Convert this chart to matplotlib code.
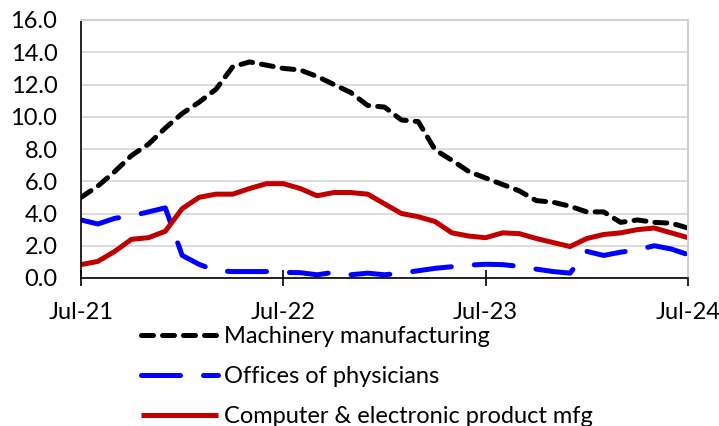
import matplotlib
matplotlib.use("Agg")
import matplotlib.pyplot as plt
import numpy as np

plt.rcParams['font.family'] = ['Lato', 'DejaVu Sans']

# Monthly data, Jul-21 .. Jul-24 (37 months)
months = list(range(37))
tick_positions = [0, 12, 24, 36]
tick_labels = ["Jul-21", "Jul-22", "Jul-23", "Jul-24"]

machinery = [5.0, 5.7, 6.6, 7.6, 8.3, 9.3, 10.2, 10.9, 11.7, 13.1, 13.4, 13.2,
             13.0, 12.9, 12.5, 12.0, 11.5, 10.7, 10.6, 9.8, 9.7, 7.95, 7.3, 6.6,
             6.2, 5.8, 5.4, 4.8, 4.7, 4.45, 4.1, 4.1, 3.45, 3.6, 3.45, 3.4, 3.1]
physicians = [3.6, 3.35, 3.7, 3.85, 4.1, 4.35, 1.4, 0.85, 0.45, 0.4, 0.4, 0.4,
              0.35, 0.33, 0.2, 0.35, 0.2, 0.3, 0.2, 0.3, 0.45, 0.6, 0.7, 0.8,
              0.85, 0.83, 0.72, 0.55, 0.4, 0.3, 1.65, 1.4, 1.6, 1.75, 2.0, 1.8, 1.45]
computer = [0.83, 1.03, 1.65, 2.4, 2.5, 2.9, 4.3, 5.0, 5.2, 5.2, 5.55, 5.85,
            5.85, 5.55, 5.1, 5.3, 5.3, 5.2, 4.6, 4.0, 3.8, 3.5, 2.8, 2.6,
            2.5, 2.8, 2.75, 2.45, 2.2, 1.95, 2.45, 2.7, 2.8, 3.0, 3.1, 2.8, 2.5]

labels = ["Machinery manufacturing", "Offices of physicians",
          "Computer & electronic product mfg"]

fig = plt.figure(figsize=(7.19, 4.26), dpi=100)
ax = fig.add_axes([81/719, 1-278/426, (688-81)/719, (278-20)/426])

lw = 3.6
l1, = ax.plot(months, machinery, color="black", lw=lw, dashes=(2.4, 1.8),
              dash_capstyle="round", label=labels[0])
l2, = ax.plot(months, physicians, color="#0000FF", lw=lw, dashes=(7.8, 4.6),
              dash_capstyle="round", label=labels[1])
l3, = ax.plot(months, computer, color="#C00000", lw=lw,
              solid_capstyle="butt", solid_joinstyle="round", label=labels[2])

ax.set_xlim(0, 36)
ax.set_ylim(0, 16)
ax.set_yticks(np.arange(0, 16.1, 2))
ax.set_yticklabels([f"{v:.1f}" for v in np.arange(0, 16.1, 2)])
ax.set_xticks(tick_positions)
ax.set_xticklabels(tick_labels)

ax.grid(axis="y", color="#D9D9D9", lw=1.3)
ax.set_axisbelow(True)
for s in ["top", "right"]:
    ax.spines[s].set_color("#D0D0D0")
    ax.spines[s].set_linewidth(1.5)
for s in ["left", "bottom"]:
    ax.spines[s].set_color("black")
    ax.spines[s].set_linewidth(1.2)

ax.tick_params(axis="y", length=0, pad=17, labelsize=17)
ax.tick_params(axis="x", direction="inout", length=11, width=1.2, pad=11.5, labelsize=17)

fig.legend(handles=[l1, l2, l3], labels=labels, loc="upper left",
           bbox_to_anchor=(141/719, 1-326/426), frameon=False, fontsize=17,
           handlelength=3.25, handletextpad=0.25, labelspacing=0.8, borderpad=0,
           borderaxespad=0)

fig.savefig("out.png", dpi=100)
